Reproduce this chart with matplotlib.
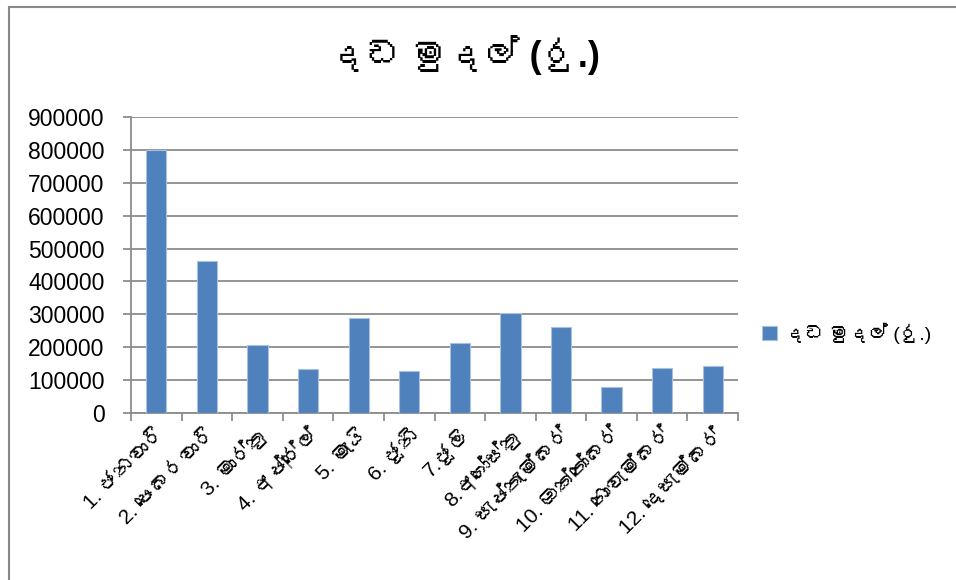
import matplotlib
matplotlib.use('Agg')
import matplotlib.pyplot as plt
from matplotlib import font_manager
from matplotlib.ft2font import FT2Font

# Data
months = ['1. ජනවාරි', '2. පෙබරවාරි', '3. මාර්තු', '4. අප්‍රේල්', '5. මැයි', '6. ජූනි',
          '7.ජූලි', '8.අගෝස්තු', '9. සැප්තැම්බර්', '10. ඔක්තෝබර්', '11. නොවැම්බර්', '12. දෙසැම්බර්']
fines = [800000, 463000, 207000, 133000, 288000, 128000,
         212000, 303000, 262000, 80000, 138000, 143000]
series_name = 'දඩ මුදල් (රු.)'
yticks = [0, 100000, 200000, 300000, 400000, 500000, 600000, 700000, 800000, 900000]

# find installed fonts with Sinhala glyphs, use them as fallback after a plain sans
sinhala = []
for f in font_manager.fontManager.ttflist:
    try:
        if 0x0D9A in FT2Font(f.fname).get_charmap():
            sinhala.append(f.name)
    except Exception:
        pass
sinhala = sorted(dict.fromkeys(sinhala), key=lambda n: 'Mono' in n)
plt.rcParams['font.family'] = ['Liberation Sans'] + sinhala + ['DejaVu Sans']

fig = plt.figure(figsize=(9.56, 5.8), dpi=100)
ax = fig.add_axes([0.137, 0.288, 0.635, 0.51])
# chart area border (only top and left edges fall inside the image)
fig.patches.append(plt.Rectangle((0.009, -0.1), 1.1, 1.088, transform=fig.transFigure,
                                 fill=False, edgecolor='#888888', linewidth=1.5))

x = range(len(months))
ax.bar(x, fines, width=0.4, color='#4f81bd', edgecolor='#a9c0e0', linewidth=0.8,
       label=series_name, zorder=3)

ax.set_ylim(0, 900000)
ax.set_xlim(-0.5, len(months) - 0.5)
ax.set_yticks(yticks)
ax.set_yticklabels([str(v) for v in yticks], fontsize=16.5)
ax.yaxis.grid(True, color='#8c8c8c', linewidth=1.3)
ax.tick_params(axis='y', length=6, color='#8c8c8c', width=1.3, pad=13)

ax.set_xticks(x)
ax.set_xticklabels(months, rotation=45, ha='right', rotation_mode='anchor', fontsize=15)
ax.tick_params(axis='x', length=0, pad=8)
ax.set_xticks([i - 0.5 for i in range(len(months) + 1)], minor=True)
ax.tick_params(axis='x', which='minor', length=6, color='#8c8c8c', width=1.3)

for s in ['top', 'right']:
    ax.spines[s].set_visible(False)
for s in ['left', 'bottom']:
    ax.spines[s].set_color('#8c8c8c')
    ax.spines[s].set_linewidth(1.3)

fig.text(0.486, 0.905, series_name, ha='center', va='center', fontsize=26, fontweight='bold')
ax.legend(loc='center left', bbox_to_anchor=(1.01, 0.27), frameon=False, fontsize=14,
          handlelength=0.8, handleheight=0.8, handletextpad=0.4)

fig.savefig('out.png', dpi=100)
